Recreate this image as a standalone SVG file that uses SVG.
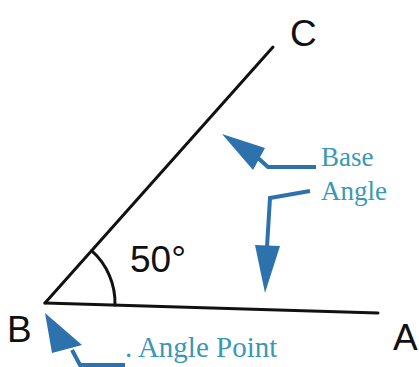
<svg xmlns="http://www.w3.org/2000/svg" width="419" height="367" viewBox="0 0 419 367">
<style>
.ln{fill:none;stroke:#111;stroke-width:3;stroke-linecap:round}
.lbl{font-family:"Liberation Sans",Arial,sans-serif;font-size:37px;fill:#111}
.note{font-family:"Liberation Serif","Times New Roman",serif;font-size:27px;fill:#3a98b6}
.shaft{fill:none;stroke:#2e72ad;stroke-width:4;stroke-linejoin:miter}
.head{fill:#2e72ad}
</style>
<rect width="419" height="367" fill="#fff"/>
<g id="angle">
<line class="ln" x1="45" y1="303" x2="378" y2="313"/>
<line class="ln" x1="45" y1="303" x2="273" y2="47"/>
<path class="ln" d="M91.6 250.7 A70 70 0 0 1 115 305.1"/>
<text class="lbl" x="130" y="272">50°</text>
</g>
<g id="B"><text class="lbl" x="7" y="342">B</text></g>
<g id="A"><text class="lbl" x="393" y="350">A</text></g>
<g id="C"><text class="lbl" x="290" y="46">C</text></g>
<g id="base-angle-label">
<text class="note" x="321" y="166">Base</text>
<text class="note" x="321" y="200">Angle</text>
</g>
<g id="angle-point-label">
<text class="note" x="125" y="357" style="font-size:29px">. Angle Point</text>
</g>
<g id="connectors">
<polyline class="shaft" points="316,167 268,167 258,158"/>
<polygon class="head" points="222,134 265,148 253,170"/>
<polyline class="shaft" points="310,191 270,198 267,247"/>
<polygon class="head" points="255,245 280,246 265,293"/>
<polyline class="shaft" points="72,350 80,365 125,365"/>
<polygon class="head" points="45,313 82,345 52,353"/>
</g>
</svg>
